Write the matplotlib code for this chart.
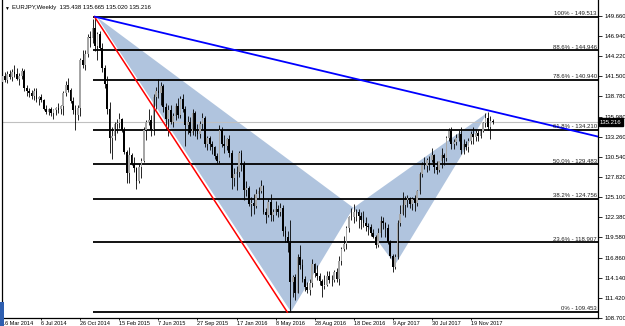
import numpy as np
import matplotlib.pyplot as plt
from matplotlib.patches import Polygon, Rectangle

plt.rcParams['font.family'] = ['Liberation Sans', 'DejaVu Sans']

# ── Weekly EURJPY bars, one week per entry ─────────────────────────────────
opens = [
    140.6, 141.5, 140.9, 141.8, 141.3, 142.0, 141.7, 141.0, 141.5, 142.2,
    139.8, 139.4, 139.2, 138.8, 139.5, 138.3, 138.6, 138.2, 137.0, 136.6,
    137.0, 136.5, 136.8, 137.1, 137.0, 137.4, 139.2, 140.3, 139.6, 138.1,
    136.9, 136.2, 137.1, 143.6, 142.9, 144.5, 146.8, 146.6, 148.0, 145.6,
    147.2, 145.3, 142.5, 140.4, 137.0, 133.0, 133.3, 135.0, 135.1, 135.7,
    134.2, 131.2, 128.3, 130.8, 129.6, 129.0, 127.2, 129.2, 130.0, 134.2,
    135.3, 135.5, 134.1, 138.6, 139.5, 139.2, 140.1, 137.3, 135.6, 136.9,
    135.2, 136.0, 137.4, 136.2, 138.4, 137.0, 134.8, 135.3, 133.8, 136.4,
    134.1, 133.6, 135.0, 135.8, 132.3, 133.0, 132.2, 131.8, 130.6, 130.0,
    134.2, 132.3, 132.0, 132.9, 131.1, 127.6, 128.2, 128.5, 131.0, 129.6,
    126.0, 126.3, 124.1, 124.3, 123.9, 125.5, 125.9, 126.5, 123.1, 122.6,
    124.4, 122.6, 123.0, 123.4, 123.1, 123.6, 120.4, 119.6, 118.8, 113.5,
    114.2, 112.1, 116.9, 115.9, 114.0, 112.8, 112.5, 113.4, 116.0, 114.8,
    114.3, 113.7, 113.0, 113.2, 114.4, 113.8, 113.8, 114.9, 114.0, 116.4,
    118.0, 118.7, 120.8, 122.4, 122.3, 123.1, 123.0, 122.5, 122.0, 121.5,
    121.2, 121.0, 120.2, 119.7, 118.5, 120.2, 121.8, 121.6, 120.8, 119.0,
    117.1, 115.6, 116.9, 121.5, 122.8, 124.0, 124.7, 124.9, 124.1, 124.8,
    124.2, 125.9, 128.2, 129.4, 129.3, 130.1, 130.1, 130.7, 129.1, 128.7,
    129.9, 130.8, 130.3, 133.0, 134.0, 132.3, 132.5, 133.0, 133.6, 131.4,
    132.3, 131.9, 132.7, 133.6, 133.2, 133.8, 133.3, 134.0, 135.1, 135.8,
    134.6, 135.438,
]
highs = [
    141.9, 142.0, 142.2, 142.3, 142.4, 143.0, 142.5, 141.9, 142.6, 142.4,
    140.3, 139.9, 139.6, 139.9, 139.8, 138.8, 139.0, 138.4, 137.5, 137.2,
    137.3, 137.0, 137.3, 137.8, 137.6, 139.5, 140.8, 141.2, 139.8, 138.6,
    137.5, 137.5, 143.9, 145.0, 145.0, 147.2, 147.6, 149.2, 149.5, 147.5,
    147.6, 146.0, 143.0, 141.5, 138.0, 134.5, 135.3, 135.6, 136.4, 135.8,
    134.5, 131.4, 131.8, 131.0, 130.5, 129.2, 129.5, 130.3, 134.5, 135.5,
    137.0, 136.2, 139.0, 140.0, 141.0, 140.7, 140.4, 137.8, 137.5, 137.6,
    136.4, 137.8, 138.5, 138.8, 139.0, 137.4, 136.0, 135.9, 137.0, 136.7,
    134.9, 135.4, 136.5, 136.0, 133.4, 133.3, 132.6, 132.0, 131.0, 134.8,
    134.6, 133.5, 133.1, 133.5, 131.5, 129.0, 129.3, 131.3, 131.5, 130.0,
    127.3, 126.6, 125.0, 125.5, 126.2, 126.4, 127.4, 126.7, 123.6, 124.8,
    125.5, 123.4, 124.5, 124.0, 124.3, 124.0, 121.2, 120.4, 122.0, 114.5,
    114.6, 117.4, 118.5, 116.7, 114.4, 113.6, 113.9, 116.7, 116.1, 115.8,
    114.7, 114.0, 114.5, 115.1, 115.0, 114.5, 115.2, 115.4, 117.0, 118.3,
    119.8, 121.2, 122.5, 123.6, 124.1, 123.5, 123.5, 123.1, 123.2, 122.3,
    121.5, 121.4, 120.7, 119.9, 120.9, 122.5, 122.3, 121.7, 121.4, 119.3,
    117.4, 117.3, 122.0, 124.0, 125.8, 125.2, 125.3, 125.0, 125.1, 125.4,
    126.0, 128.5, 129.8, 130.5, 130.3, 130.6, 131.7, 130.9, 129.9, 130.0,
    131.7, 131.0, 133.3, 134.4, 134.5, 132.9, 133.6, 134.2, 134.5, 132.9,
    132.7, 133.0, 134.0, 134.5, 134.2, 134.1, 134.3, 135.3, 136.4, 136.6,
    136.0, 135.665,
]
lows = [
    140.2, 140.6, 140.5, 141.0, 140.8, 141.3, 140.9, 140.3, 141.0, 139.5,
    138.8, 138.6, 138.4, 138.2, 138.0, 137.6, 137.9, 136.8, 136.3, 136.2,
    136.0, 135.7, 136.2, 136.5, 136.3, 136.2, 138.8, 139.3, 137.8, 136.3,
    134.1, 135.5, 136.0, 142.5, 142.3, 144.0, 145.4, 146.0, 144.9, 143.7,
    145.0, 142.0, 139.9, 136.3, 131.0, 130.2, 132.8, 133.8, 134.4, 133.9,
    130.9, 126.9, 127.0, 129.4, 128.5, 126.1, 126.9, 127.6, 129.8, 132.8,
    134.8, 133.3, 133.5, 137.0, 138.5, 137.6, 136.6, 134.3, 133.3, 134.9,
    134.6, 135.5, 135.8, 135.8, 136.6, 132.0, 133.6, 133.3, 133.5, 133.3,
    132.9, 133.0, 134.3, 131.9, 131.5, 131.5, 130.9, 130.2, 129.7, 129.7,
    131.8, 131.1, 131.5, 130.5, 126.1, 126.5, 126.0, 127.8, 128.6, 124.6,
    125.2, 123.8, 122.5, 122.8, 123.6, 124.8, 125.6, 122.8, 121.5, 122.3,
    121.8, 121.8, 122.6, 122.3, 122.5, 119.8, 118.9, 117.6, 109.5, 111.5,
    111.1, 112.0, 115.3, 113.5, 112.3, 112.0, 111.8, 112.8, 114.2, 113.8,
    113.2, 111.5, 112.6, 113.0, 113.4, 113.0, 113.5, 113.5, 113.2, 115.9,
    117.8, 118.0, 120.3, 121.9, 121.6, 121.8, 120.8, 120.7, 121.0, 120.4,
    119.9, 119.8, 119.5, 118.2, 118.3, 119.7, 120.7, 119.7, 118.7, 116.8,
    114.9, 115.3, 116.6, 121.2, 122.6, 122.4, 123.7, 123.6, 123.3, 123.2,
    123.9, 125.5, 127.8, 128.9, 128.5, 128.7, 129.8, 128.3, 128.2, 128.5,
    129.0, 129.4, 130.0, 132.6, 131.6, 131.6, 132.1, 132.6, 130.9, 130.9,
    131.4, 131.2, 132.2, 132.3, 132.6, 132.6, 133.0, 133.9, 134.5, 134.1,
    132.9, 135.020,
]
closes = [
    141.5, 140.9, 141.8, 141.3, 142.0, 141.7, 141.0, 141.5, 142.2, 139.8,
    139.4, 139.2, 138.8, 139.5, 138.3, 138.6, 138.2, 137.0, 136.6, 137.0,
    136.5, 136.8, 137.1, 136.9, 137.4, 139.2, 140.3, 139.6, 138.1, 136.9,
    136.2, 137.1, 143.6, 142.9, 144.5, 146.8, 146.6, 148.0, 145.6, 147.2,
    145.3, 142.5, 140.4, 137.0, 133.0, 133.3, 135.0, 135.1, 135.7, 134.2,
    131.2, 128.3, 130.8, 129.6, 129.0, 127.2, 129.2, 130.0, 134.2, 135.3,
    135.5, 134.1, 138.6, 139.5, 139.2, 140.1, 137.3, 135.6, 136.9, 135.2,
    136.0, 137.4, 136.2, 138.4, 137.0, 134.8, 135.3, 133.8, 136.4, 134.1,
    133.6, 135.0, 135.8, 132.3, 133.0, 132.2, 131.8, 130.6, 130.0, 134.2,
    132.3, 132.0, 132.9, 131.1, 127.6, 128.2, 128.5, 131.0, 129.6, 126.0,
    126.3, 124.1, 124.3, 123.9, 125.5, 125.9, 126.5, 123.1, 122.6, 124.4,
    122.6, 123.0, 123.4, 123.1, 123.6, 120.4, 119.6, 118.8, 113.5, 114.2,
    112.1, 116.9, 115.9, 114.0, 112.8, 112.5, 113.4, 116.0, 114.8, 114.3,
    113.7, 113.0, 113.2, 114.4, 113.8, 113.8, 114.9, 114.0, 116.4, 118.0,
    118.7, 120.8, 122.4, 122.3, 123.1, 123.0, 122.5, 122.0, 121.5, 121.2,
    121.0, 120.2, 119.7, 118.5, 120.2, 121.8, 121.6, 120.8, 119.0, 117.1,
    115.6, 116.9, 121.5, 122.8, 124.0, 124.7, 124.9, 124.1, 124.8, 124.2,
    125.9, 128.2, 129.4, 129.3, 130.1, 130.1, 130.7, 129.1, 128.7, 129.9,
    130.8, 130.3, 133.0, 134.0, 132.3, 132.5, 133.0, 133.6, 131.4, 132.3,
    131.9, 132.7, 133.6, 133.2, 133.8, 133.3, 134.0, 135.1, 135.8, 134.6,
    135.4, 135.216,
]

# ── Chart objects: fibo levels, XABCD pattern, trend lines ────────────────
fib_labels = ["100%", "88.6%", "78.6%", "61.8%", "50.0%", "38.2%", "23.6%", "0%"]
fib_prices = [149.513, 144.946, 140.940, 134.210, 129.483, 124.756, 118.907, 109.453]
fib_start = 37.2

tri_xab_x = [38.8, 118.3, 143.9]
tri_xab_y = [149.45, 109.5, 123.6]
tri_bcd_x = [143.9, 161.0, 198.8]
tri_bcd_y = [123.6, 115.9, 136.5]

red_x = [37.8, 116.8]
red_y = [149.513, 109.453]
blue_x = [38.0, 244.1]
blue_y = [149.513, 133.26]

last_price = 135.216

price_ticks = [149.660, 146.940, 144.220, 141.500, 138.780, 135.980, 133.260, 130.540,
               127.820, 125.100, 122.380, 119.580, 116.860, 114.140, 111.420, 108.700]

date_ticks = [0, 16, 32, 48, 64, 80, 96, 112, 128, 144, 160, 176, 192]
date_labels = ["16 Mar 2014", "6 Jul 2014", "26 Oct 2014", "15 Feb 2015", "7 Jun 2015",
               "27 Sep 2015", "17 Jan 2016", "8 May 2016", "28 Aug 2016", "18 Dec 2016",
               "9 Apr 2017", "30 Jul 2017", "19 Nov 2017"]

# ── Plot ───────────────────────────────────────────────────────────────────
fig = plt.figure(figsize=(6.25, 3.26), dpi=100)
ax = fig.add_axes([2 / 625, 8 / 326, 596 / 625, 318 / 326])
ax.set_xlim(-0.1, 244.1)
ax.set_ylim(108.66, 151.78)

o = np.array(opens)
h = np.array(highs)
l = np.array(lows)
c = np.array(closes)
idx = np.arange(len(c))
up = c >= o

# pattern triangles in the background
ax.add_patch(Polygon(list(zip(tri_xab_x, tri_xab_y)), closed=True,
                     facecolor="#b0c4de", edgecolor="none", zorder=1))
ax.add_patch(Polygon(list(zip(tri_bcd_x, tri_bcd_y)), closed=True,
                     facecolor="#b0c4de", edgecolor="none", zorder=1))

ax.axhline(last_price, color="#c0c0c0", lw=0.8, zorder=1.5)

# candles
ax.vlines(idx, l, h, color="black", lw=0.6, zorder=3)
ax.bar(idx[up], (c - o)[up], bottom=o[up], width=0.7, color="#a6a6a6",
       edgecolor="none", zorder=4)
ax.bar(idx[~up], (o - c)[~up], bottom=c[~up], width=0.7, color="black",
       edgecolor="none", zorder=4)

# fibo levels
ax.hlines(fib_prices, fib_start, 244.1, color="black", lw=1.3, zorder=2)
for lab, p in zip(fib_labels, fib_prices):
    ax.text(243.6, p + 0.12, f"{lab} - {p:.3f}", ha="right", va="bottom",
            fontsize=4.3, color="#202020", zorder=6)

ax.plot(red_x, red_y, color="#ff0000", lw=1.1, zorder=5)
ax.plot(blue_x, blue_y, color="#0000ff", lw=1.3, zorder=5)

# axes styling (MT4 look)
ax.spines["top"].set_visible(False)
for side in ["left", "right", "bottom"]:
    ax.spines[side].set_color("black")
    ax.spines[side].set_linewidth(0.9)

ax.yaxis.tick_right()
ax.set_yticks(price_ticks)
ax.set_yticklabels([f"{v:.3f}" for v in price_ticks])
ax.tick_params(axis="y", length=3, width=0.6, labelsize=4.3, pad=1.5)

ax.set_xticks(date_ticks)
ax.set_xticklabels(date_labels, ha="left")
ax.tick_params(axis="x", length=1.5, width=0.6, labelsize=4, pad=0.5)

# current price box on the price scale
ax.text(1.003, last_price, f"{last_price:.3f}", transform=ax.get_yaxis_transform(),
        ha="left", va="center", color="white", fontsize=4.3, clip_on=False,
        bbox=dict(boxstyle="square,pad=0.2", fc="black", ec="black"), zorder=7)

# header
fig.text(4 / 625, 1 - 8 / 326, "▼", fontsize=3.5, va="center", color="black")
fig.text(12 / 625, 1 - 8 / 326, "EURJPY,Weekly  135.438 135.665 135.020 135.216",
         fontsize=4.3, va="center", color="black")

fig.add_artist(Rectangle((0, 0), 4 / 625, 24 / 326, transform=fig.transFigure,
                         facecolor="#2f5fb0", edgecolor="none"))

plt.savefig("out.png", dpi=100)
